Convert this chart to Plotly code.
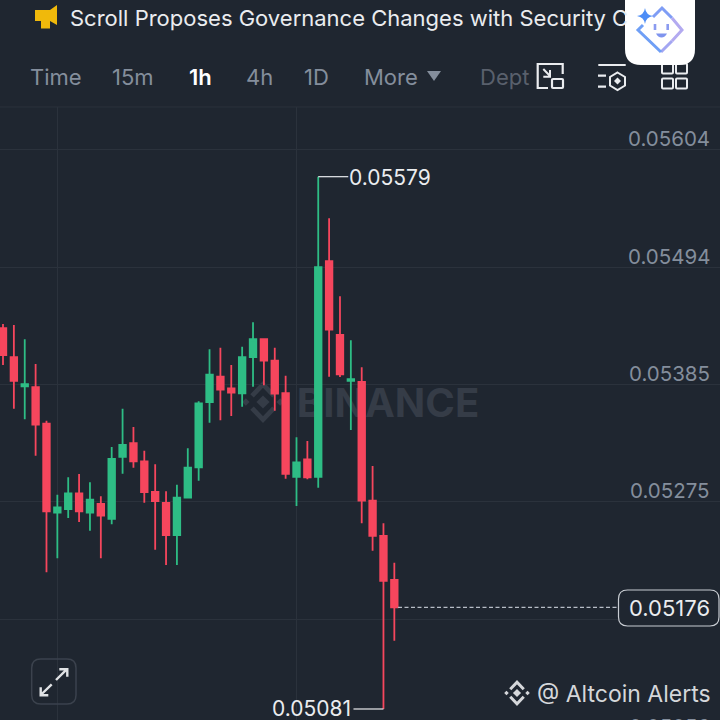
"""Scroll 1h candles, Binance mobile chart screenshot."""
import plotly.graph_objects as go

# candles, oldest first (price x 1e-5)
opens = [5437.2, 5410.1, 5382.9, 5382.0, 5347.9, 5264.7, 5268.1, 5282.8, 5264.7, 5272.8,
         5259.0, 5316.8, 5329.6, 5312.7, 5284.0, 5273.7, 5243.8, 5278.7, 5307.1, 5368.2,
         5391.9, 5381.0, 5376.4, 5410.1, 5426.9, 5406.9, 5376.6, 5298.1, 5314.6, 5298.1,
         5499.9, 5430.9, 5387.9, 5386.9, 5275.9, 5242.9, 5201.7]
highs = [5441.2, 5440.3, 5426.9, 5403.8, 5350.7, 5281.5, 5297.8, 5300.9, 5293.1, 5280.0,
         5326.1, 5362.0, 5344.8, 5322.7, 5309.9, 5284.7, 5290.9, 5324.9, 5368.9, 5417.5,
         5419.0, 5402.8, 5420.0, 5442.8, 5426.9, 5419.0, 5392.8, 5335.2, 5331.7, 5579.0,
         5540.1, 5467.1, 5426.0, 5400.7, 5308.4, 5254.7, 5217.9]
lows = [5402.8, 5362.0, 5352.0, 5318.0, 5208.9, 5222.0, 5259.7, 5256.0, 5247.8, 5222.0,
        5253.8, 5301.1, 5306.8, 5274.0, 5230.0, 5215.7, 5215.7, 5278.7, 5294.6, 5348.9,
        5351.1, 5355.1, 5363.8, 5382.5, 5383.9, 5360.1, 5296.5, 5270.9, 5295.9, 5288.0,
        5391.9, 5391.6, 5342.0, 5254.7, 5229.1, 5081.0, 5144.9]
closes = [5412.2, 5387.9, 5384.8, 5347.0, 5266.0, 5269.7, 5282.8, 5266.0, 5276.8, 5261.9,
          5314.9, 5328.0, 5312.7, 5284.0, 5275.6, 5243.8, 5278.7, 5306.8, 5367.0, 5393.8,
          5379.7, 5376.9, 5410.1, 5426.9, 5406.9, 5376.0, 5300.9, 5311.8, 5297.8, 5494.3,
          5435.9, 5394.1, 5389.7, 5275.9, 5243.1, 5201.0, 5176.0]

price_ticks = [0.05604, 0.05494, 0.05385, 0.05275, 0.05165]
price_labels = ["0.05604", "0.05494", "0.05385", "0.05275"]
bottom_label = "0.05056"
grid_candles = [5, 27]
tabs = ["Time", "15m", "1h", "4h", "1D", "More"]
tab_lefts = [28, 110, 187, 244, 302, 362]
high_label = "0.05579"
low_label = "0.05081"
last_label = "0.05176"
title = "Scroll Proposes Governance Changes with Security C"

BG = "#1f2630"
GRID = "#2b323c"
GREY = "#848e9c"
WHITE = "#eaecef"
GREEN = "#2ebd85"
RED = "#f6465d"
FONT = "Inter"

scale = 1e-5
o = [v * scale for v in opens]
h = [v * scale for v in highs]
l = [v * scale for v in lows]
c = [v * scale for v in closes]
xs = list(range(len(o)))


def px(x):
    return x / 720


def py(y):
    return 1 - y / 720


def path(d):
    """Path in screenshot pixels -> paper coordinates."""
    out, is_x = [], True
    for tok in d.split():
        if tok.isalpha():
            out.append(tok)
            is_x = True
        else:
            out.append(f"{px(float(tok)) if is_x else py(float(tok)):.5f}")
            is_x = not is_x
    return " ".join(out)


def round_rect(x0, y0, x1, y1, r):
    return (f"M {x0 + r} {y0} L {x1 - r} {y0} Q {x1} {y0} {x1} {y0 + r} L {x1} {y1 - r} "
            f"Q {x1} {y1} {x1 - r} {y1} L {x0 + r} {y1} Q {x0} {y1} {x0} {y1 - r} "
            f"L {x0} {y0 + r} Q {x0} {y0} {x0 + r} {y0} Z")


def draw(fig, d, fill=None, line=None, width=2, layer="above"):
    fig.add_shape(type="path", xref="paper", yref="paper", path=path(d), layer=layer,
                  fillcolor=fill or "rgba(0,0,0,0)",
                  line=dict(color=line or "rgba(0,0,0,0)", width=width if line else 0))


def label(fig, text, x, y, size=21, color=GREY, anchor="left", weight=400):
    fig.add_annotation(text=text, x=px(x), y=py(y), xref="paper", yref="paper", showarrow=False,
                       xanchor=anchor, yanchor="middle", xshift=0, yshift=0,
                       font=dict(family=FONT, size=size, color=color, weight=weight))


def diamond_logo(fig, cx, cy, s, color, layer="above"):
    """Binance style logo: centre, two chevrons and side dots."""
    draw(fig, f"M {cx} {cy - .3 * s} L {cx + .3 * s} {cy} L {cx} {cy + .3 * s} L {cx - .3 * s} {cy} Z",
         fill=color, layer=layer)
    draw(fig, f"M {cx - .5 * s} {cy - .28 * s} L {cx} {cy - .8 * s} L {cx + .5 * s} {cy - .28 * s}",
         line=color, width=s * .22, layer=layer)
    draw(fig, f"M {cx - .5 * s} {cy + .28 * s} L {cx} {cy + .8 * s} L {cx + .5 * s} {cy + .28 * s}",
         line=color, width=s * .22, layer=layer)
    for side in (-1, 1):
        dx = cx + side * .78 * s
        draw(fig, f"M {dx} {cy - .17 * s} L {dx + .17 * s} {cy} L {dx} {cy + .17 * s} L {dx - .17 * s} {cy} Z",
             fill=color, layer=layer)


fig = go.Figure(go.Candlestick(
    x=xs, open=o, high=h, low=l, close=c,
    whiskerwidth=0,
    increasing=dict(line=dict(color=GREEN, width=1.8), fillcolor=GREEN),
    decreasing=dict(line=dict(color=RED, width=1.8), fillcolor=RED),
    hoverinfo="skip",
))

fig.update_layout(
    width=720, height=720,
    margin=dict(l=0, r=0, t=0, b=0),
    paper_bgcolor=BG, plot_bgcolor=BG,
    showlegend=False, boxgap=0.14,
    xaxis=dict(range=[-0.276, 65.96], tickvals=grid_candles, showticklabels=False,
               gridcolor=GRID, gridwidth=1, zeroline=False, showline=False, ticks="",
               rangeslider=dict(visible=False), fixedrange=True),
    yaxis=dict(domain=[0, 613 / 720], range=[0.050707, 0.056442], tickvals=price_ticks,
               showticklabels=False, gridcolor=GRID, gridwidth=1, zeroline=False,
               showline=False, ticks="", fixedrange=True),
)

# watermark stays below the candles
fig.add_shape(type="rect", xref="paper", yref="paper", x0=px(288), x1=px(488), y0=py(421), y1=py(381),
              layer="below", line_width=0, fillcolor="rgba(0,0,0,0)",
              label=dict(text="BINANCE", textposition="middle center",
                         font=dict(family=FONT, size=40, color="#353c47", weight=700)))
diamond_logo(fig, 263, 402, 22, "#353c47", layer="below")

# price labels sit just above their gridlines
for val, text in zip(price_ticks, price_labels):
    fig.add_annotation(text=text, x=px(711.5), y=val, xref="paper", yref="y", showarrow=False,
                       xanchor="right", yanchor="middle", yshift=11,
                       font=dict(family=FONT, size=20.5, color=GREY))
label(fig, bottom_label, 711.5, 726, size=20.5, color=GREY, anchor="right")

# high / low markers
fig.add_shape(type="line", xref="x", yref="y", x0=xs[29], x1=xs[29] + 2.76, y0=h[29], y1=h[29],
              line=dict(color=WHITE, width=1.2))
fig.add_annotation(text=high_label, x=xs[29] + 2.62, y=h[29], xref="x", yref="y", showarrow=False,
                   xanchor="left", yanchor="middle", yshift=-1,
                   font=dict(family=FONT, size=21, color=WHITE))
fig.add_shape(type="line", xref="x", yref="y", x0=xs[35], x1=xs[35] - 2.76, y0=l[35], y1=l[35],
              line=dict(color=WHITE, width=1.2))
fig.add_annotation(text=low_label, x=xs[35] - 2.8, y=l[35], xref="x", yref="y", showarrow=False,
                   xanchor="right", yanchor="middle", font=dict(family=FONT, size=21, color=WHITE))

# last price line and box
fig.add_shape(type="line", xref="paper", yref="y", x0=px(398), x1=px(618), y0=c[-1], y1=c[-1],
              line=dict(color="#b7bdc6", width=1.2, dash="4px,2.5px"))
draw(fig, round_rect(618.5, 590, 719, 626, 9), fill=BG, line="#c8ccd2", width=1.2)
label(fig, last_label, 711.5, 608, size=22, color=WHITE, anchor="right")

# header
draw(fig, "M 0 107 L 720 107", line=GRID, width=1)
draw(fig, "M 35 10 L 50 10 L 57 5 L 57 25 L 50 21 L 50 28.5 L 41 28.5 L 41 21 L 35 21 Z", fill="#f0b90b")
label(fig, title, 68, 18, size=22, color=WHITE)
for text, left in zip(tabs, tab_lefts):
    active = text == "1h"
    label(fig, text, left, 77, size=22, color="#ffffff" if active else GREY, weight=600 if active else 400)
draw(fig, "M 427 71 L 441 71 L 434 81 Z", fill=GREY)
label(fig, "Dept", 478, 77, size=22, color="#59606c")

# toolbar icons
draw(fig, "M 562.7 74 L 562.7 64 L 537.7 64 L 537.7 88 L 548 88", line=WHITE, width=2.2)
draw(fig, "M 543.3 69 L 550 76 M 550 70 L 550 76.7 L 543.3 76.7", line=WHITE, width=2)
draw(fig, round_rect(552, 79, 563, 88, 1), line=WHITE, width=2.2)
draw(fig, "M 598.3 65 L 625.7 65 M 598 75.7 L 606 75.7 M 598 86.7 L 606 86.7", line=WHITE, width=2.2)
draw(fig, "M 617.5 72.5 L 625 77 L 625 85.5 L 617.5 90 L 610 85.5 L 610 77 Z", line=WHITE, width=2)
draw(fig, "M 617.5 77.5 L 621 81 L 617.5 84.5 L 614 81 Z", fill=WHITE)
for x0 in (662, 676):
    for y0 in (63.5, 78.5):
        draw(fig, round_rect(x0, y0, x0 + 11, y0 + 10, 1), line=WHITE, width=2)

# floating assistant button covers the end of the title
draw(fig, round_rect(625, -20, 695, 65, 16), fill="#ffffff")
draw(fig, "M 653 17 L 662 8 L 672 18", line="#7f9df5", width=3)
draw(fig, "M 672 18 L 682 30 L 672 41", line="#b3aaf0", width=3)
draw(fig, "M 672 41 L 661 52", line="#a3a6f2", width=3)
draw(fig, "M 661 52 L 638 30 L 643 25", line="#6f9ff6", width=3)
draw(fig, "M 645 8 Q 646 15 653 16 Q 646 17 645 24 Q 644 17 637 16 Q 644 15 645 8 Z", fill="#4d8df6")
draw(fig, "M 655 24 L 655 30 M 667.7 24 L 667.7 30", line="#8b9bf0", width=2.6)
draw(fig, "M 656 33.5 L 667 33.5 Q 665 37.5 661.5 37.5 Q 658 37.5 656 33.5 Z", fill="#7f94ee")

# expand button and credit
draw(fig, round_rect(31.7, 659, 76, 704, 9), line="#3b424d", width=1.5)
draw(fig, "M 56 680 L 66.7 669.3 M 59.3 669.3 L 67.3 669.3 L 67.3 676.7", line="#e0e2e5", width=2.4)
draw(fig, "M 51.7 684.3 L 40.7 695 M 40.7 687.3 L 40.7 695.3 L 48.3 695.3", line="#e0e2e5", width=2.4)
diamond_logo(fig, 517, 693, 13.5, "#d5d7da")
label(fig, "@ Altcoin Alerts", 535, 694, size=23, color="#d5d7da")

# the page's default body margin would push the figure 8px down and right
fig.write_html("out.html", config={"displayModeBar": False},
               post_script="document.body.style.margin = '0';")
